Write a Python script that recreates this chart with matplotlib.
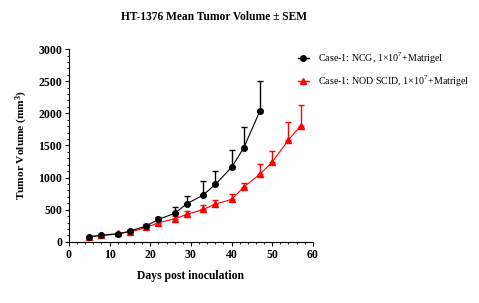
import matplotlib.pyplot as plt
from matplotlib.lines import Line2D
from matplotlib.ticker import MultipleLocator

# values
ncgDays = [5, 8, 12, 15, 19, 22, 26, 29, 33, 36, 40, 43, 47]
ncgMean = [78, 100, 120, 167, 245, 349, 442, 592, 727, 893, 1158, 1460, 2040]
ncgSem = [10, 12, 15, 20, 25, 35, 93, 120, 213, 203, 265, 320, 468]

scidDays = [5, 8, 12, 15, 19, 22, 26, 29, 33, 36, 40, 43, 47, 50, 54, 57]
scidMean = [82, 100, 130, 150, 223, 296, 358, 425, 503, 587, 659, 851, 1053, 1240, 1583, 1806]
scidSem = [8, 10, 12, 15, 20, 30, 45, 57, 63, 57, 88, 68, 151, 167, 280, 325]

ncgLabel = "Case-1: NCG, 1×10$^7$+Matrigel"
scidLabel = "Case-1: NOD SCID, 1×10$^7$+Matrigel"

plt.rcParams['font.family'] = ['Liberation Serif', 'DejaVu Serif']
plt.rcParams['mathtext.fontset'] = 'custom'
plt.rcParams['mathtext.rm'] = 'Liberation Serif'
plt.rcParams['mathtext.bf'] = 'Liberation Serif:bold'

fig = plt.figure(figsize=(4.79, 3.03), dpi=100)
ax = fig.add_axes([0.144, 0.202, 0.509, 0.636])

ax.errorbar(ncgDays, ncgMean, yerr=[[0] * len(ncgSem), ncgSem], color='black',
            marker='o', markersize=4, linewidth=0.8, elinewidth=1.0, capsize=2.5,
            capthick=1.0, zorder=3)
ax.errorbar(scidDays, scidMean, yerr=[[0] * len(scidSem), scidSem], color='red',
            marker='^', markersize=4.5, linewidth=0.8, elinewidth=1.0, capsize=2.5,
            capthick=1.0, zorder=2)

ax.set_xlim(0, 60)
ax.set_ylim(0, 3000)
ax.xaxis.set_major_locator(MultipleLocator(10))
ax.xaxis.set_minor_locator(MultipleLocator(2))
ax.yaxis.set_major_locator(MultipleLocator(500))
ax.yaxis.set_minor_locator(MultipleLocator(100))
ax.spines['top'].set_visible(False)
ax.spines['right'].set_visible(False)
ax.tick_params(which='major', length=3, width=0.8, labelsize=8.5, pad=2)
ax.tick_params(which='minor', length=1.5, width=0.6)
for lbl in ax.get_xticklabels() + ax.get_yticklabels():
    lbl.set_fontweight('bold')

ax.set_xlabel("Days post inoculation", fontsize=8.4, fontweight='bold', labelpad=7)
ax.set_ylabel(r"Tumor Volume (mm$\mathbf{^3}$)", fontsize=8.2, fontweight='bold', labelpad=6)
fig.text(0.447, 0.945, "HT-1376 Mean Tumor Volume ± SEM", ha='center', va='center',
         fontsize=8.3, fontweight='bold')

handles = [
    Line2D([], [], color='black', marker='o', markersize=4, linewidth=1.0),
    Line2D([], [], color='red', marker='^', markersize=4.5, linewidth=1.0),
]
fig.legend(handles, [ncgLabel, scidLabel], loc='upper left',
           bbox_to_anchor=(0.603, 0.862), frameon=False, fontsize=7.2,
           handlelength=1.1, labelspacing=0.75, handletextpad=0.9)

fig.savefig("out.png", dpi=100)
